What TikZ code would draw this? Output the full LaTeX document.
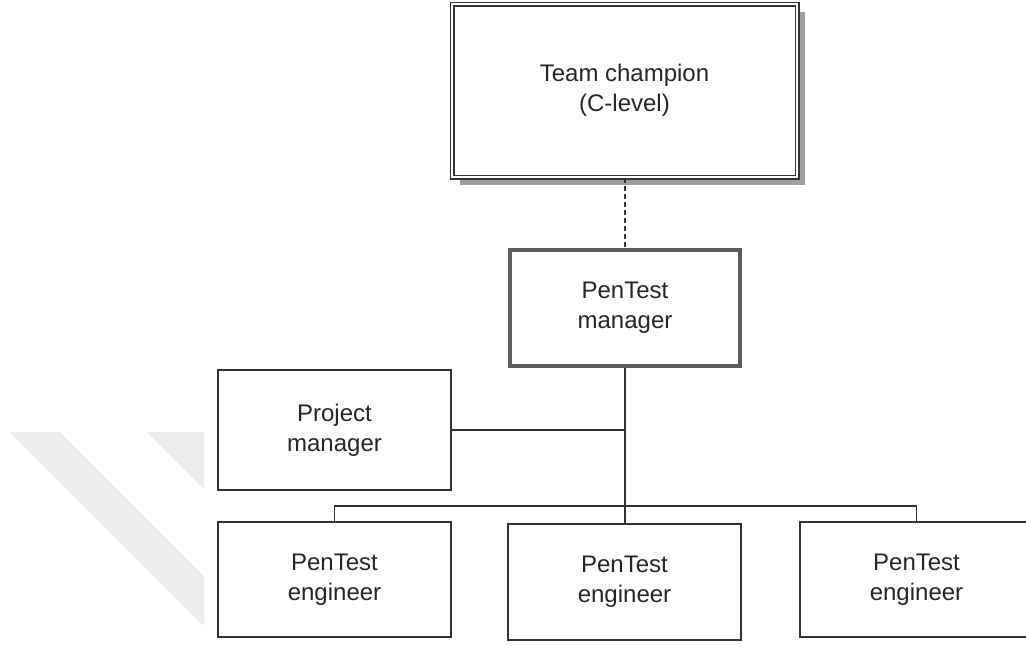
\documentclass[tikz,border=0pt]{standalone}
\usepackage{fontspec}
\setmainfont{Liberation Sans}
\usetikzlibrary{shadows}
\definecolor{ink}{HTML}{333333}
\definecolor{txt}{HTML}{262626}
\definecolor{stripegray}{HTML}{EDEDED}
\begin{document}
\begin{tikzpicture}[x=1pt,y=-1pt,
  every node/.style={text=txt, align=center, font=\fontsize{24}{30}\selectfont},
  unitbox/.style={draw=ink, line width=1.5pt, minimum width=233pt, inner sep=0pt},
  headbox/.style={draw=ink, line width=1.2pt, double, double distance=2.6pt,
    minimum width=345pt, minimum height=173pt, fill=white,
    drop shadow={shadow xshift=8pt, shadow yshift=-8pt, fill=black!38, opacity=1}},
  leadbox/.style={draw=ink!80, line width=3.6pt, minimum width=230pt, minimum height=116pt},
  link/.style={draw=ink, line width=1.5pt}]
\useasboundingbox (0,0) rectangle (1026,646);
% faint background stripes
\fill[stripegray] (10,432) -- (60,432) -- (204,576) -- (204,626) -- cycle;
\fill[stripegray] (147,432) -- (204,432) -- (204,489) -- cycle;
% boxes
\node[headbox] (champ) at (624.5,90.5) {Team champion\\(C-level)};
\node[leadbox] (lead) at (625,308) {PenTest\\manager};
\node[unitbox, minimum height=120pt] (proj) at (334.5,430) {Project\\manager};
\node[unitbox, minimum height=115pt] (engA) at (334.5,579.5) {PenTest\\engineer};
\node[unitbox, minimum height=116pt] (engB) at (624.5,582) {PenTest\\engineer};
\node[unitbox, minimum height=115pt] (engC) at (916.5,579.5) {PenTest\\engineer};
\coordinate (bus) at (625,506);
% connectors
\draw[link, dashed, dash pattern=on 5pt off 3pt, line width=1.3pt] (champ.south -| lead.north) -- (lead.north);
\draw[link] (lead.south) -- (engB.north -| lead.south);
\draw[link] (proj.east) -- (proj.east -| lead.south);
\draw[link] (engA.north) |- (bus) -| (engC.north);
\end{tikzpicture}
\end{document}
